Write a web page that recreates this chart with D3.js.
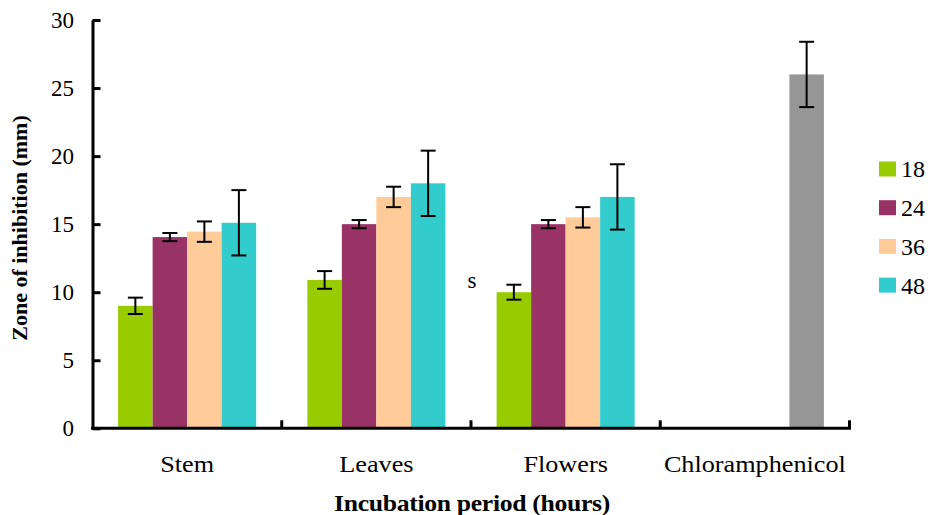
<!DOCTYPE html>
<html>
<head>
<meta charset="utf-8">
<script src="https://cdn.jsdelivr.net/npm/d3@7"></script>
<style>
  html, body { margin: 0; padding: 0; background: #fff; }
  svg { display: block; }
</style>
</head>
<body>
<svg id="chart" width="928" height="515"></svg>
<script>
// Plant parts tested, plus the antibiotic control
const categories = ["Stem", "Leaves", "Flowers", "Chloramphenicol"];
// Incubation periods (hours) – one series each
const series = ["18", "24", "36", "48"];
const seriesColors = ["#99CC00", "#993366", "#FFCC99", "#33CCCC"];
const controlColor = "#969696";

// Mean zone of inhibition (mm) per series, per category (null = not tested)
const values18 = [9.0, 10.9, 10.0, null];
const values24 = [14.05, 15.0, 15.0, null];
const values36 = [14.45, 17.0, 15.5, null];
const values48 = [15.1, 18.0, 17.0, 26.0];
// Error bar half-lengths (mm)
const err18 = [0.6, 0.65, 0.55, null];
const err24 = [0.3, 0.3, 0.3, null];
const err36 = [0.75, 0.75, 0.75, null];
const err48 = [2.4, 2.4, 2.4, 2.4];

const yTicks = [0, 5, 10, 15, 20, 25, 30];

const seriesValues = [values18, values24, values36, values48];
const seriesErrors = [err18, err24, err36, err48];

const FONT = "Liberation Serif";

const svg = d3.select("#chart");
const plot = { left: 92.5, right: 849.5, top: 20, bottom: 428.3 };

const x0 = d3.scaleBand().domain(categories).range([plot.left, plot.right]).padding(0);
const x1 = d3.scaleBand().domain(series).range([0, x0.bandwidth()])
  .paddingInner(0).paddingOuter(0.742);
const y = d3.scaleLinear().domain([0, 30]).range([plot.bottom, plot.top]);

// Flatten into bar records
const bars = [];
categories.forEach((cat, ci) => {
  series.forEach((s, si) => {
    const v = seriesValues[si][ci];
    if (v == null) return;
    bars.push({
      cat, s, v, e: seriesErrors[si][ci],
      color: cat === "Chloramphenicol" ? controlColor : seriesColors[si]
    });
  });
});

// Bars
svg.append("g").selectAll("rect").data(bars).join("rect")
  .attr("x", d => x0(d.cat) + x1(d.s))
  .attr("width", x1.bandwidth())
  .attr("y", d => y(d.v))
  .attr("height", d => y(0) - y(d.v))
  .attr("fill", d => d.color);

// Error bars
const capHalf = 7.5;
const eb = svg.append("g").attr("stroke", "#000").attr("stroke-width", 2);
bars.forEach(d => {
  const cx = x0(d.cat) + x1(d.s) + x1.bandwidth() / 2;
  const yt = y(d.v + d.e), yb = y(d.v - d.e);
  eb.append("line").attr("x1", cx).attr("x2", cx).attr("y1", yt).attr("y2", yb);
  eb.append("line").attr("x1", cx - capHalf).attr("x2", cx + capHalf).attr("y1", yt).attr("y2", yt);
  eb.append("line").attr("x1", cx - capHalf).attr("x2", cx + capHalf).attr("y1", yb).attr("y2", yb);
});

// Y axis (ticks point inward)
const yAxis = svg.append("g")
  .attr("transform", `translate(${plot.left},0)`)
  .call(d3.axisRight(y).tickValues(yTicks).tickSize(8).tickSizeOuter(0).tickFormat(""));
yAxis.select(".domain").attr("stroke-width", 3);
yAxis.selectAll(".tick line").attr("stroke-width", 3);
svg.append("g").selectAll("text").data(yTicks).join("text")
  .attr("x", 74)
  .attr("y", d => y(d))
  .attr("dy", "0.35em")
  .attr("text-anchor", "end")
  .style("font-family", FONT)
  .attr("font-size", 23)
  .text(d => d);

// X axis (category boundary ticks point upward)
const boundaries = categories.map(c => x0(c)).concat([plot.right]);
svg.append("line")
  .attr("x1", plot.left - 1.5).attr("x2", plot.right + 1.5)
  .attr("y1", plot.bottom).attr("y2", plot.bottom)
  .attr("stroke", "#000").attr("stroke-width", 3);
svg.append("g").selectAll("line").data(boundaries.slice(1)).join("line")
  .attr("x1", d => d).attr("x2", d => d)
  .attr("y1", plot.bottom).attr("y2", plot.bottom - 8)
  .attr("stroke", "#000").attr("stroke-width", 3);

svg.append("g").selectAll("text").data(categories).join("text")
  .attr("transform", d => `translate(${x0(d) + x0.bandwidth() / 2},472) scale(1.14,1)`)
  .attr("text-anchor", "middle")
  .style("font-family", FONT)
  .attr("font-size", 23)
  .text(d => d);

// Axis titles
svg.append("text")
  .attr("transform", "translate(472,511) scale(1.07,1)")
  .attr("text-anchor", "middle")
  .style("font-family", FONT)
  .attr("font-size", 24)
  .attr("font-weight", "bold")
  .attr("letter-spacing", -0.3)
  .text("Incubation period (hours)");

svg.append("text")
  .attr("transform", "translate(27,228) rotate(-90)")
  .attr("text-anchor", "middle")
  .style("font-family", FONT)
  .attr("font-size", 22)
  .attr("font-weight", "bold")
  .text("Zone of inhibition (mm)");

// Stray annotation mark
svg.append("text")
  .attr("x", 472).attr("y", 288)
  .attr("text-anchor", "middle")
  .style("font-family", FONT)
  .attr("font-size", 23)
  .text("s");

// Legend
const legend = svg.append("g");
series.forEach((s, i) => {
  const cy = 169 + i * 38.7;
  legend.append("rect")
    .attr("x", 879).attr("y", cy - 7.5)
    .attr("width", 17).attr("height", 15)
    .attr("fill", seriesColors[i]);
  legend.append("text")
    .attr("x", 901).attr("y", cy)
    .attr("dy", "0.35em")
    .style("font-family", FONT)
    .attr("font-size", 24)
    .text(s);
});
</script>
</body>
</html>
